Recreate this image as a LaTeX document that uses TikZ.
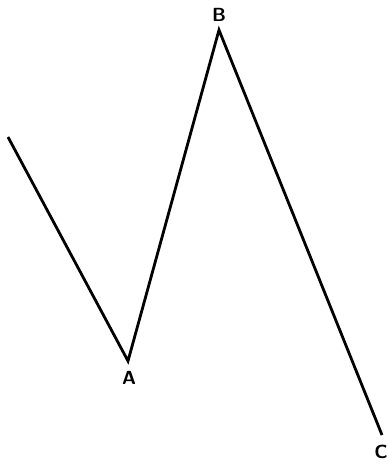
\documentclass[tikz,border=0pt]{standalone}
\usepackage{tikz}
\usetikzlibrary{positioning}

\tikzset{
    pt/.style={font=\sffamily\bfseries\fontsize{19}{19}\selectfont, inner sep=0pt},
    zig/.style={line width=2.8pt, line join=miter, black}
}

\begin{document}
\begin{tikzpicture}[x=1pt, y=-1pt]
        \useasboundingbox (0,0) rectangle (388,468);
        \coordinate (S) at (8,137);
        \coordinate (A) at (128,361);
        \coordinate (B) at (219,30);
        \coordinate (C) at (382,435);
        \node[pt] (lA) at (129,378) {A};
        \node[pt] (lB) at (219,15) {B};
        \node[pt] (lC) at (381,452) {C};
        \draw [zig] (S) -- (A) -- (B) -- (C);
    \end{tikzpicture}
\end{document}
